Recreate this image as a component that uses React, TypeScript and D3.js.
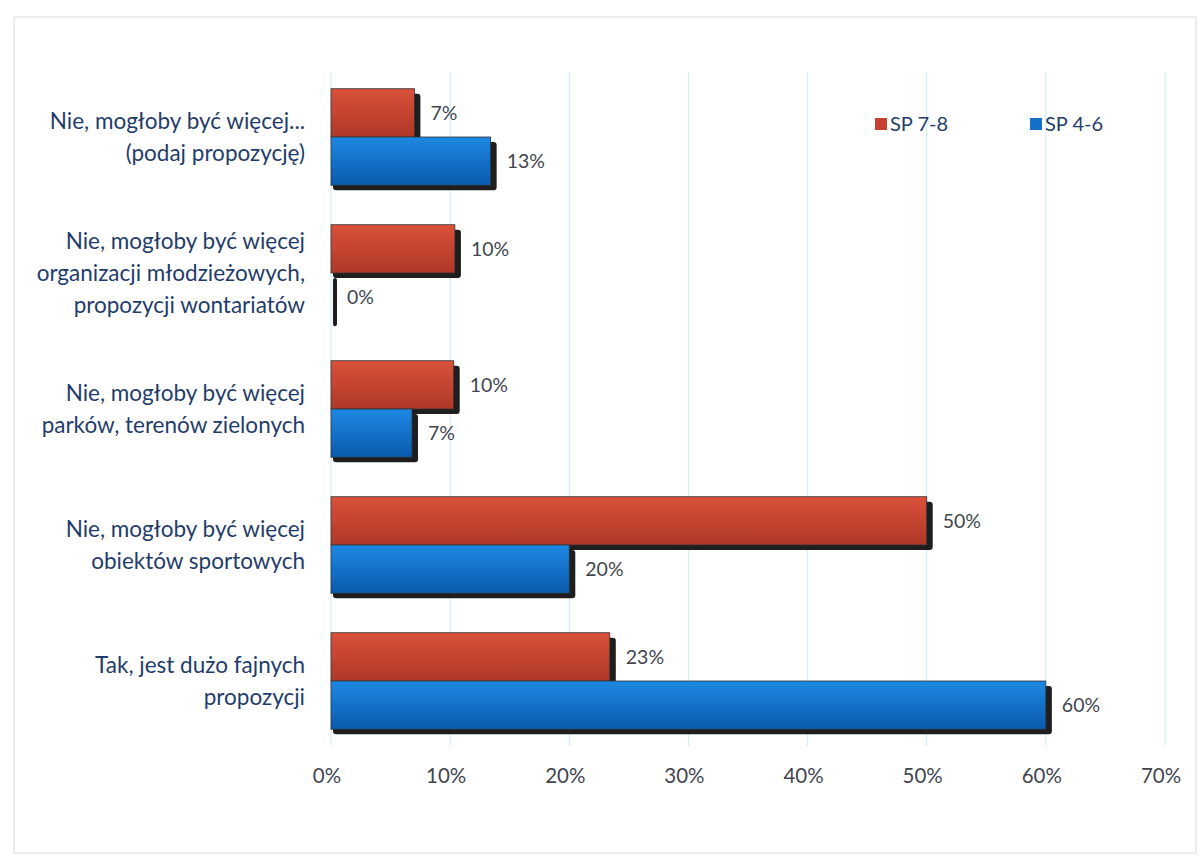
import { useEffect } from "react";
import * as d3 from "d3";

const categories = [
  "Nie, mogłoby być więcej...|(podaj propozycję)",
  "Nie, mogłoby być więcej|organizacji młodzieżowych,|propozycji wontariatów",
  "Nie, mogłoby być więcej|parków, terenów zielonych",
  "Nie, mogłoby być więcej|obiektów sportowych",
  "Tak, jest dużo fajnych|propozycji",
];
const seriesNames = ["SP 7-8", "SP 4-6"];
const sp78 = [7, 10.4, 10.3, 50, 23.4];
const sp46 = [13.4, 0, 6.8, 20, 60];
const xTicks = [0, 10, 20, 30, 40, 50, 60, 70];

const W = 1202;
const H = 859;

const App = () => {
  useEffect(() => {
    document.body.style.margin = "0";
  }, []);

  const x = d3.scaleLinear().domain([0, 70]).range([331, 1165]);
  const y = d3
    .scaleBand()
    .domain(categories)
    .range([69, 749])
    .paddingInner(0.29)
    .paddingOuter(0.145);
  const sub = d3
    .scaleBand()
    .domain(seriesNames)
    .range([0, y.bandwidth()]);

  const series = [
    { name: seriesNames[0], values: sp78, fill: "url(#gRed)", key: "#c8402f" },
    { name: seriesNames[1], values: sp46, fill: "url(#gBlue)", key: "#1570c8" },
  ];

  const labelFont = "Lato, 'Open Sans', sans-serif";

  return (
    <svg width={W} height={H} style={{ display: "block", background: "#fff" }}>
      <defs>
        <linearGradient id="gRed" x1="0" y1="0" x2="0" y2="1">
          <stop offset="0%" stopColor="#d9503a" />
          <stop offset="100%" stopColor="#ae3828" />
        </linearGradient>
        <linearGradient id="gBlue" x1="0" y1="0" x2="0" y2="1">
          <stop offset="0%" stopColor="#1d88e2" />
          <stop offset="100%" stopColor="#0a5aae" />
        </linearGradient>
      </defs>

      {/* outer frame */}
      <rect x={14} y={17} width={1182} height={836} fill="none" stroke="#e2e8ec" strokeWidth={1.5} />

      {/* gridlines */}
      {xTicks.map((t) => (
        <line
          key={"g" + t}
          x1={x(t)}
          x2={x(t)}
          y1={72}
          y2={746}
          stroke="#d3eef4"
          strokeWidth={1.2}
        />
      ))}

      {/* bars */}
      {categories.map((c, i) =>
        series.map((s) => {
          const v = s.values[i];
          const y0 = (y(c) || 0) + (sub(s.name) || 0);
          const h = sub.bandwidth();
          const w = x(v) - x(0);
          return (
            <g key={c + s.name}>
              <rect
                x={x(0) + 2}
                y={y0 + 5}
                width={w + 4}
                height={h}
                rx={3}
                fill="#1e1e1e"
              />
              {w > 0 && (
                <rect
                  x={x(0)}
                  y={y0}
                  width={w}
                  height={h}
                  fill={s.fill}
                  stroke="#333"
                  strokeWidth={0.8}
                />
              )}
              <text
                x={x(v) + 16}
                y={y0 + h / 2}
                dy="0.35em"
                fontFamily={labelFont}
                fontSize={19.5}
                fill="#3f4650"
              >
                {Math.round(v) + "%"}
              </text>
            </g>
          );
        })
      )}

      {/* category labels */}
      {categories.map((c) => {
        const lines = c.split("|");
        const cy = (y(c) || 0) + y.bandwidth() / 2;
        const lh = 32;
        const top = cy - ((lines.length - 1) * lh) / 2;
        return (
          <text
            key={"l" + c}
            textAnchor="end"
            fontFamily={labelFont}
            fontSize={22.5}
            fill="#1f3d6b"
          >
            {lines.map((ln, j) => (
              <tspan key={j} x={305} y={top + j * lh} dy="0.35em">
                {ln}
              </tspan>
            ))}
          </text>
        );
      })}

      {/* x tick labels */}
      {xTicks.map((t) => (
        <text
          key={"t" + t}
          x={x(t) - 4}
          y={776}
          textAnchor="middle"
          dy="0.35em"
          fontFamily={labelFont}
          fontSize={20.5}
          fill="#3f4650"
        >
          {t + "%"}
        </text>
      ))}

      {/* legend */}
      {series.map((s, i) => {
        const lx = i === 0 ? 875 : 1030;
        return (
          <g key={"lg" + s.name}>
            <rect x={lx} y={118} width={12} height={12} fill={s.key} />
            <text
              x={lx + 15}
              y={124}
              dy="0.35em"
              fontFamily={labelFont}
              fontSize={20}
              fill="#1f3d6b"
            >
              {s.name}
            </text>
          </g>
        );
      })}
    </svg>
  );
};

export default App;
